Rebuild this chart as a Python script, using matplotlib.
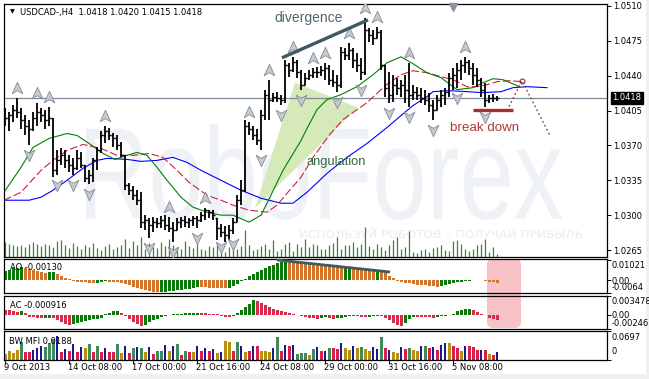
import numpy as np
import matplotlib
matplotlib.use("Agg")
import matplotlib.pyplot as plt
from matplotlib.path import Path
from matplotlib.patches import PathPatch, Polygon, FancyBboxPatch, Rectangle
from matplotlib.textpath import TextPath
from matplotlib.font_manager import FontProperties
from matplotlib.transforms import Affine2D, IdentityTransform, blended_transform_factory as blend

# ---------------- data ----------------
symbol = "USDCAD-,H4"
high = [1.0408,1.0404,1.0411,1.0418,1.0408,1.0401,1.0396,1.0404,1.0413,1.0408,
        1.0406,1.0409,1.0398,1.0365,1.0367,1.0365,1.0360,1.0357,1.0365,1.0363,
        1.0350,1.0345,1.0357,1.0368,1.0385,1.0390,1.0388,1.0382,1.0380,1.0373,
        1.0360,1.0332,1.0329,1.0325,1.0323,1.0300,1.0297,1.0298,1.0297,1.0299,
        1.0300,1.0298,1.0293,1.0297,1.0298,1.0299,1.0297,1.0299,1.0299,1.0303,
        1.0307,1.0305,1.0305,1.0297,1.0291,1.0289,1.0290,1.0297,1.0320,1.0335,
        1.0396,1.0394,1.0390,1.0387,1.0406,1.0426,1.0436,1.0423,1.0424,1.0421,
        1.0456,1.0453,1.0459,1.0456,1.0446,1.0443,1.0446,1.0448,1.0449,1.0450,
        1.0453,1.0451,1.0446,1.0441,1.0469,1.0468,1.0473,1.0468,1.0463,1.0458,
        1.0498,1.0488,1.0486,1.0489,1.0486,1.0451,1.0444,1.0441,1.0438,1.0436,
        1.0441,1.0453,1.0431,1.0429,1.0428,1.0426,1.0423,1.0416,1.0421,1.0426,
        1.0428,1.0443,1.0448,1.0453,1.0456,1.0459,1.0456,1.0453,1.0448,1.0438,
        1.0433,1.0421,1.0422,1.0420]
low = [1.0390,1.0385,1.0394,1.0398,1.0387,1.0380,1.0370,1.0385,1.0390,1.0394,
       1.0387,1.0390,1.0338,1.0340,1.0350,1.0347,1.0343,1.0340,1.0345,1.0347,
       1.0333,1.0331,1.0333,1.0345,1.0362,1.0372,1.0375,1.0368,1.0365,1.0358,
       1.0325,1.0320,1.0315,1.0310,1.0287,1.0285,1.0277,1.0283,1.0287,1.0287,
       1.0285,1.0283,1.0273,1.0285,1.0287,1.0288,1.0287,1.0289,1.0287,1.0293,
       1.0295,1.0297,1.0295,1.0275,1.0278,1.0273,1.0275,1.0281,1.0293,1.0310,
       1.0323,1.0380,1.0375,1.0370,1.0365,1.0396,1.0396,1.0414,1.0414,1.0411,
       1.0413,1.0439,1.0444,1.0438,1.0426,1.0431,1.0436,1.0438,1.0438,1.0440,
       1.0436,1.0431,1.0429,1.0424,1.0428,1.0456,1.0456,1.0448,1.0444,1.0436,
       1.0441,1.0474,1.0471,1.0478,1.0446,1.0419,1.0413,1.0414,1.0421,1.0419,
       1.0413,1.0409,1.0416,1.0416,1.0413,1.0411,1.0404,1.0396,1.0406,1.0409,
       1.0411,1.0419,1.0426,1.0428,1.0436,1.0443,1.0441,1.0431,1.0429,1.0419,
       1.0409,1.0413,1.0414,1.0415]
close = [1.0398,1.0401,1.0406,1.0404,1.0396,1.0390,1.0387,1.0398,1.0404,1.0401,
         1.0396,1.0398,1.0345,1.0355,1.0360,1.0355,1.0350,1.0347,1.0357,1.0350,
         1.0337,1.0340,1.0355,1.0365,1.0380,1.0385,1.0380,1.0377,1.0370,1.0360,
         1.0330,1.0325,1.0320,1.0315,1.0293,1.0295,1.0290,1.0293,1.0292,1.0295,
         1.0290,1.0287,1.0285,1.0293,1.0295,1.0293,1.0295,1.0297,1.0295,1.0300,
         1.0305,1.0303,1.0300,1.0287,1.0283,1.0280,1.0285,1.0293,1.0315,1.0325,
         1.0390,1.0387,1.0380,1.0375,1.0401,1.0421,1.0416,1.0419,1.0418,1.0416,
         1.0451,1.0446,1.0454,1.0444,1.0431,1.0438,1.0441,1.0444,1.0444,1.0446,
         1.0448,1.0436,1.0434,1.0431,1.0464,1.0461,1.0466,1.0456,1.0451,1.0444,
         1.0486,1.0481,1.0478,1.0484,1.0451,1.0428,1.0421,1.0431,1.0428,1.0431,
         1.0426,1.0421,1.0424,1.0421,1.0418,1.0416,1.0411,1.0406,1.0416,1.0421,
         1.0424,1.0438,1.0441,1.0446,1.0451,1.0454,1.0448,1.0441,1.0436,1.0426,
         1.0416,1.0418,1.0418,1.0418]
volume = [15,13,12,11,12,10,13,15,13,11, 13,12,10,16,17,12,9,14,11,8,
          12,10,14,9,7,11,13,8,10,12, 18,9,16,12,20,8,14,10,9,15,
          11,18,12,10,8,16,11,9,13,8, 7,11,10,13,9,5,10,12,8,11,
          27,12,7,8,11,13,8,17,6,8, 13,15,6,13,10,18,10,13,12,8,
          8,12,14,20,8,12,12,15,10,13, 30,11,8,13,10,7,12,17,20,8,
          10,26,5,4,7,8,5,9,10,12, 7,6,16,17,13,8,6,8,12,13, 18,5,10,3]

# Alligator lines (bar position, price)
jaw_x = [-0.25,6,9,12,15.5,19.5,23,25.5,30.5,34,38,42,45.5,49,54,59,64,69,72,75.5,
         80.5,85.5,90.5,95.5,99,102,105.5,107,111,115.5,119.5,124,127,130.5,135.5]
jaw_y = [1.0315,1.0315,1.0318,1.0325,1.0335,1.0347,1.0355,1.0357,1.0356,1.0354,
         1.0355,1.0358,1.0353,1.0345,1.0335,1.0325,1.0317,1.0312,1.0312,1.0323,
         1.0342,1.0358,1.0372,1.0388,1.0400,1.0410,1.0419,1.0424,1.0425,1.0424,
         1.0423,1.0424,1.0428,1.0429,1.0428]
teeth_x = [-0.25,4,9,12,15.5,19.5,24,28,32,36,39.5,43,46,50.5,54,57,61,65.5,68,70.5,
           74,77,81,84.5,90.5,94,96,99,102,105.5,109,112,115.5,118,120.5,123,126,129.5]
teeth_y = [1.0315,1.0323,1.0345,1.0355,1.0365,1.0371,1.0367,1.0360,1.0360,1.0362,
           1.0358,1.0345,1.0333,1.0320,1.0315,1.0310,1.0305,1.0303,1.0310,1.0322,
           1.0338,1.0358,1.0380,1.0396,1.0413,1.0426,1.0433,1.0441,1.0445,1.0443,
           1.0439,1.0436,1.0429,1.0429,1.0431,1.0434,1.0435,1.0434]
lips_x = [-0.25,4,7,11,15.5,18,21,24.5,27.5,30.5,33,35.5,38,40.5,44,47,50.5,54,57,61,
          64,65.5,69.5,74,75.5,78,80.5,84,88,92,95.5,99,102,105.5,109,113,117,119.5,122,124.5,
          127.5,128.5]
lips_y = [1.0323,1.0348,1.0368,1.0377,1.0382,1.0380,1.0372,1.0362,1.0356,1.0360,
          1.0363,1.0360,1.0348,1.0335,1.0318,1.0308,1.0303,1.0300,1.0300,1.0293,
          1.0300,1.0312,1.0345,1.0375,1.0387,1.0406,1.0416,1.0421,1.0429,1.0441,
          1.0453,1.0459,1.0452,1.0443,1.0438,1.0426,1.0428,1.0433,1.0437,1.0436,
          1.0431,1.0429]

fractal_up = [3,8,11,25,41,50,61,66,72,77,80,86,90,93,101,115]
fractal_down = [6,13,17,21,36,42,48,54,57,64,69,74,83,89,96,101,107,113,120]

ao = [0.0045,0.0052,0.0058,0.0061,0.0063,0.0059,0.0055,0.0050,0.0046,0.0042,
      0.0037,0.0039,0.0040,0.0031,0.0022,0.0012,0.0003,-0.0005,-0.0009,-0.0011,
      -0.0012,-0.0014,-0.0016,-0.0013,-0.0010,-0.0007,-0.0008,-0.0010,-0.0012,-0.0015,
      -0.0020,-0.0026,-0.0033,-0.0040,-0.0046,-0.0052,-0.0057,-0.0060,-0.0062,-0.0061,
      -0.0059,-0.0057,-0.0054,-0.0052,-0.0049,-0.0047,-0.0045,-0.0041,-0.0035,-0.0036,
      -0.0037,-0.0038,-0.0039,-0.0040,-0.0041,-0.0042,-0.0038,-0.0030,-0.0018,-0.0006,
      0.0006,0.0018,0.0030,0.0042,0.0052,0.0060,0.0068,0.0076,0.0084,0.0092,
      0.0097,0.0094,0.0091,0.0088,0.0085,0.0083,0.0081,0.0079,0.0077,0.0075,
      0.0073,0.0071,0.0069,0.0067,0.0065,0.0066,0.0067,0.0064,0.0061,0.0058,
      0.0055,0.0051,0.0047,0.0049,0.0046,0.0038,0.0022,0.0008,-0.0004,-0.0010,
      -0.0014,-0.0017,-0.0020,-0.0023,-0.0025,-0.0027,-0.0029,-0.0031,-0.0033,-0.0031,
      -0.0027,-0.0022,-0.0017,-0.0012,-0.0008,-0.0005,-0.0003,-0.0001,0.0001,-0.0002,
      -0.0005,-0.0008,-0.0011,-0.0013]
ac = [0.0010,0.0009,0.00078,0.0007,0.00085,0.00048,-0.00023,-0.00036,-0.00045,-0.0005,
      -0.00045,-0.0004,-0.00049,-0.0008,-0.00117,-0.00153,-0.0018,-0.00162,-0.00144,-0.00126,
      -0.00108,-0.0009,-0.00072,-0.0006,-0.00041,0.00018,0.00049,0.00077,0.00086,0.00036,
      -0.00018,-0.00072,-0.00126,-0.00162,-0.00189,-0.00171,-0.00126,-0.0009,-0.0006,-0.00036,
      -0.00018,0.00009,0.00018,0.00023,0.00031,0.00036,0.00041,0.00045,0.00049,0.00041,
      0.00036,0.00031,0.00023,0.00018,-0.00009,-0.00031,-0.00036,-0.00018,0.00036,0.0009,
      0.00144,0.00198,0.0028,0.00252,0.00216,0.0018,0.00144,0.00117,0.00099,0.00072,
      0.00054,0.00036,0.00018,0.00009,-0.00009,-0.00027,-0.00045,-0.00054,-0.0006,-0.00045,
      -0.00036,-0.00054,-0.00072,-0.00054,-0.00045,-0.00027,-0.00009,-0.00005,-0.00018,-0.00027,
      -0.00031,-0.00023,-0.00013,-0.00005,-0.00018,-0.0005,-0.0008,-0.0013,-0.0017,-0.0019,
      -0.0014,-0.0007,-0.0002,-0.00022,-0.00024,-0.00027,-0.00036,-0.00045,-0.00036,-0.00014,
      -0.0001,0.0001,0.0003,0.0008,0.0010,0.0011,0.00112,0.0009,0.0006,0.0003,
      0.0001,-0.0004,-0.0007,-0.000916]
mfi = [0.0144,0.0216,0.0168,0.024,0.0432,0.0192,0.0192,0.024,0.0288,0.0336,
       0.0312,0.0408,0.0504,0.0576,0.0192,0.0264,0.0216,0.0384,0.0192,0.0312,
       0.0288,0.0384,0.0192,0.0336,0.0192,0.0288,0.0192,0.0192,0.0384,0.0168,
       0.0336,0.0168,0.0288,0.0312,0.0288,0.0192,0.0312,0.0144,0.0216,0.0216,
       0.036,0.0216,0.0336,0.0384,0.012,0.0216,0.0192,0.0192,0.0336,0.0216,
       0.0288,0.0216,0.0264,0.0168,0.0192,0.0456,0.0432,0.0216,0.0432,0.0336,
       0.0192,0.0216,0.0336,0.0336,0.0216,0.0216,0.0192,0.0288,0.0552,0.0216,
       0.036,0.0336,0.036,0.0144,0.0168,0.0168,0.012,0.0264,0.0312,0.0216,
       0.0216,0.0288,0.0288,0.0264,0.0408,0.0288,0.024,0.0336,0.0288,0.0312,
       0.0264,0.0216,0.0312,0.0264,0.0552,0.0288,0.024,0.0192,0.0168,0.0312,
       0.0264,0.0288,0.024,0.0216,0.0336,0.0336,0.0288,0.0312,0.024,0.036,
       0.0408,0.0408,0.0336,0.0288,0.0216,0.0336,0.0336,0.0312,0.024,0.024,
       0.024,0.0144,0.012,0.0188]
mfi_zone = ("KYYYGRRBBB" "GGGBRBRBRB" "YGRGRBRRGY" "BRGBGYBRGG" "BYBGRGRYBR"
            "BRBYBYYRGB" "YRBRYYYBGR" "BRBGGGYGBR" "BGRRBYYBYG" "YYBBGRBYYB"
            "RGYYBGRBRB" "BYRRYBRRRB" "RYRB")

date_pos = [0, 16, 32, 48, 64, 80, 96, 112]
date_labels = ["9 Oct 2013", "14 Oct 08:00", "17 Oct 00:00", "21 Oct 16:00",
               "24 Oct 08:00", "29 Oct 00:00", "31 Oct 16:00", "5 Nov 08:00"]
price_ticks = [1.0265, 1.0300, 1.0335, 1.0370, 1.0405, 1.0440, 1.0475, 1.0510]

# annotations (bar position, price)
div_x, div_y = [69.25, 90.75], [1.0458, 1.0496]
ao_div_x, ao_div_y = [68, 96.25], [0.0100, 0.0040]
angle_x, angle_y = [72.5, 88.25, 62.5], [1.0433, 1.0408, 1.0307]
brk_x, brk_y = [117, 127], [1.0406, 1.0406]
proj_x, proj_y = [125.5, 129.25, 136.25], [1.0405, 1.0435, 1.0380]

# ---------------- figure ----------------
W, H = 649, 379
fig = plt.figure(figsize=(W / 100, H / 100), dpi=100)
fig.patch.set_facecolor('white')
FS = 6.0
FAM = 'DejaVu Sans'

def add_panel(top, bottom):
    a = fig.add_axes([4 / W, 1 - bottom / H, 603 / W, (bottom - top) / H])
    a.set_facecolor('none')
    for s in a.spines.values():
        s.set_linewidth(0.9)
        s.set_color('black')
    a.set_xlim(-0.25, 150.5)
    a.set_xticks([])
    a.yaxis.tick_right()
    a.tick_params(axis='y', length=3, width=0.7, pad=1.2, labelsize=FS, colors='black')
    return a

ax = add_panel(4, 257)
ax_ao = add_panel(259, 293)
ax_ac = add_panel(296, 329)
ax_mfi = add_panel(331, 360)

# pink highlight across AO / AC (behind the panels)
fig.add_artist(FancyBboxPatch((487, H - 328), 34, 69, boxstyle='round,pad=0,rounding_size=6',
                              transform=IdentityTransform(), fc='#f7c3c8', ec='none', zorder=-1))

idx = np.arange(len(close))
high_a, low_a, close_a = np.array(high), np.array(low), np.array(close)
open_a = np.clip(np.r_[close_a[0], close_a[:-1]], low_a, high_a)

# watermark
def fit_text(target, s, x0, y0, x1, y1, color, family='Liberation Sans', weight='normal', z=0.2):
    fp = FontProperties(family=family, weight=weight)
    tp = TextPath((0, 0), s, size=100, prop=fp)
    bb = tp.get_extents()
    tr = (Affine2D().translate(-bb.x0, -bb.y0)
          .scale((x1 - x0) / bb.width, (y1 - y0) / bb.height)
          .translate(x0, H - y1))
    p = PathPatch(tr.transform_path(tp), facecolor=color, edgecolor='none',
                  transform=IdentityTransform(), zorder=z)
    target.add_artist(p)

fit_text(ax, "RoboForex", 86, 124, 562, 220, '#eef1f5')
fit_text(ax, "ИСПОЛЬЗУЙ РОБОТОВ – ПОЛУЧАЙ ПРИБЫЛЬ", 300, 228, 582, 238, '#e8ebf0', family='DejaVu Sans')

ax.set_ylim(1.0258, 1.0512)
ax.set_yticks(price_ticks)
ax.set_yticklabels([f"{v:.4f}" for v in price_ticks], family=FAM)

# angulation triangle
ax.add_patch(Polygon(list(zip(angle_x, angle_y)), closed=True, fc='#d5eab8', ec='none', zorder=1.5))

# current price line
ax.axhline(close_a[-1], color='#7d8b99', lw=0.9, zorder=1.6)

# volumes
ax.vlines(idx, 0, np.array(volume) / 253.0, transform=blend(ax.transData, ax.transAxes),
          color='#2f8f2f', lw=0.9, zorder=1.7)

# alligator
ax.plot(jaw_x, jaw_y, color='#0000ff', lw=0.8, zorder=2)
ax.plot(teeth_x, teeth_y, color='#d21f3c', lw=0.8, ls=(0, (7, 2.5)), zorder=2)
ax.plot(lips_x, lips_y, color='#008000', lw=0.8, zorder=2)

# OHLC bars
ax.vlines(idx, low_a, high_a, color='black', lw=1.3, zorder=3)
ax.hlines(open_a, idx - 0.45, idx, color='black', lw=1.0, zorder=3)
ax.hlines(close_a, idx, idx + 0.45, color='black', lw=1.0, zorder=3)

# fractals
up_m = Path([(0, 1), (0.85, -0.85), (0, -0.35), (-0.85, -0.85), (0, 1)], [1, 2, 2, 2, 79])
dn_m = Path([(0, -1), (0.85, 0.85), (0, 0.35), (-0.85, 0.85), (0, -1)], [1, 2, 2, 2, 79])
fu = np.array(fractal_up); fd = np.array(fractal_down)
ax.plot(fu, high_a[fu] + 0.0010, ls='none', marker=up_m, ms=9, mfc='#c6cad0', mec='#858c95', mew=0.6, zorder=4)
ax.plot(fd, low_a[fd] - 0.0010, ls='none', marker=dn_m, ms=9, mfc='#c6cad0', mec='#858c95', mew=0.6, zorder=4)

# annotations
ax.plot(div_x, div_y, color='#3f5b60', lw=2.4, solid_capstyle='butt', zorder=5)
ax.plot(brk_x, brk_y, color='#a3302f', lw=2.4, solid_capstyle='butt', zorder=5)
ax.plot(proj_x, proj_y, color='#8b3535', lw=0.9, ls=(0, (1.5, 2)), zorder=5)
ax.plot([proj_x[1]], [proj_y[1]], marker='o', ms=3.5, mfc='none', mec='#8b3535', mew=0.8, zorder=5)
ax.text(76, 1.0498, 'divergence', color='#4e6670', fontsize=10, ha='center', va='center', family='Liberation Sans', zorder=6)
ax.text(82.75, 1.0353, 'angulation', color='#2e6e3a', fontsize=9.3, ha='center', va='center', family='Liberation Sans', zorder=6)
ax.text(120, 1.0388, 'break down', color='#b03838', fontsize=9.6, ha='center', va='center', family='Liberation Sans', zorder=6)

# chart shift marker
ax.plot([112], [0.988], marker='v', ms=6, color='#8a949e', transform=blend(ax.transData, ax.transAxes), clip_on=False, zorder=6)

# title
fig.text(10 / W, 1 - 12 / H, '▼', fontsize=4.5, va='center', family=FAM)
fig.text(20 / W, 1 - 12 / H,
         f"{symbol}  {open_a[-1]:.4f} {high_a[-1]:.4f} {low_a[-1]:.4f} {close_a[-1]:.4f}",
         fontsize=FS, va='center', family=FAM)

# current price box
fig.text(612 / W, 1 - 98 / H, f"{close_a[-1]:.4f}", color='white', fontsize=FS, va='center', family=FAM,
         bbox=dict(boxstyle='square,pad=0.18', fc='black', ec='black'))

# ---------- AO ----------
ao_a = np.array(ao)
ao_prev = np.r_[ao_a[0] - 1, ao_a[:-1]]
ax_ao.bar(idx, ao_a, width=0.75, color=np.where(ao_a > ao_prev, '#0b7a0b', '#d2742a'), lw=0, zorder=2)
ax_ao.set_ylim(-0.0065, 0.0105)
ax_ao.set_yticks([0.01021, 0, -0.0064]); ax_ao.set_yticklabels([])
ax_ao.plot(ao_div_x, ao_div_y, color='#3f5b60', lw=2.0, solid_capstyle='butt', zorder=3)
fig.text(10 / W, 1 - 268 / H, f"AO {ao_a[-1]:.5f}", fontsize=FS, va='center', family=FAM)
fig.text(612 / W, 1 - 266 / H, "0.01021", fontsize=FS, va='center', family=FAM)
fig.text(612 / W, 1 - 281 / H, "0.00", fontsize=FS, va='center', family=FAM)
fig.text(612 / W, 1 - 288 / H, "-0.0064", fontsize=FS, va='center', family=FAM)

# ---------- AC ----------
ac_a = np.array(ac)
ac_prev = np.r_[ac_a[0] + 1, ac_a[:-1]]
ax_ac.bar(idx, ac_a, width=0.75, color=np.where(ac_a > ac_prev, '#0b7a0b', '#d82a4a'), lw=0, zorder=2)
ax_ac.set_ylim(-0.00243, 0.00351)
ax_ac.set_yticks([0.003478, 0, -0.00246]); ax_ac.set_yticklabels([])
fig.text(10 / W, 1 - 305 / H, f"AC {ac_a[-1]:.6f}", fontsize=FS, va='center', family=FAM)
fig.text(612 / W, 1 - 301 / H, "0.003478", fontsize=FS, va='center', family=FAM)
fig.text(612 / W, 1 - 316 / H, "0.00", fontsize=FS, va='center', family=FAM)
fig.text(612 / W, 1 - 323 / H, "-0.00246", fontsize=FS, va='center', family=FAM)

# ---------- BW MFI ----------
mfi_a = np.array(mfi)
zone_col = {'G': '#3e8a5c', 'Y': '#b8900e', 'R': '#d8204a', 'B': '#1a1a8c', 'K': '#8a8a8a'}
wide = np.array([z != 'B' for z in mfi_zone])
cols = [zone_col[z] for z in mfi_zone]
ax_mfi.bar(idx[wide], mfi_a[wide], width=0.75, color=np.array(cols)[wide], lw=0, zorder=2)
ax_mfi.bar(idx[~wide], mfi_a[~wide], width=0.28, color=np.array(cols)[~wide], lw=0, zorder=2)
ax_mfi.set_ylim(0, 0.0697)
ax_mfi.set_yticks([0.0697, 0]); ax_mfi.set_yticklabels([])
fig.text(9 / W, 1 - 341 / H, f"BW MFI {mfi_a[-1]:.4f}", fontsize=FS, va='center', family=FAM)
fig.text(612 / W, 1 - 338 / H, "0.0697", fontsize=FS, va='center', family=FAM)
fig.text(612 / W, 1 - 352 / H, "0", fontsize=FS, va='center', family=FAM)

ax_mfi.set_xticks(date_pos)
ax_mfi.tick_params(axis='x', length=3, width=0.7, direction='out', labelbottom=False)
tb = blend(ax_mfi.transData, fig.transFigure)
for p, lab in zip(date_pos, date_labels):
    fig.text(p - 0.3, 1 - 368 / H, lab, transform=tb, fontsize=FS, va='center', ha='left', family=FAM)

for a in (ax, ax_ao, ax_ac, ax_mfi):
    a.set_xlim(-0.25, 150.5)

# window frame
fig.add_artist(Rectangle((0, 0), 1, 5 / H, transform=fig.transFigure, fc='#f0f0f0', ec='none', zorder=-2))
fig.add_artist(Rectangle((646 / W, 0), 3 / W, 1, transform=fig.transFigure, fc='#f0f0f0', ec='none', zorder=-2))

fig.savefig('out.png', dpi=100)
